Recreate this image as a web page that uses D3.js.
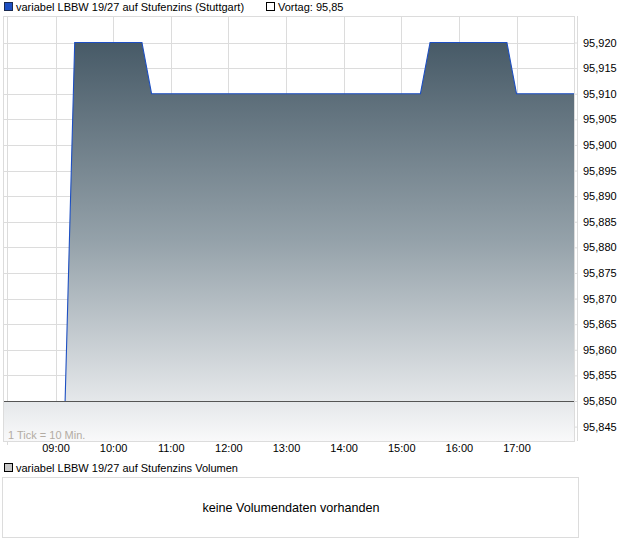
<!DOCTYPE html>
<html>
<head>
<meta charset="utf-8">
<script src="https://cdn.jsdelivr.net/npm/d3@7"></script>
<style>
  body { margin: 0; background: #fff; }
  svg { display: block; font-family: "Liberation Sans", Arial, sans-serif; }
</style>
</head>
<body>
<svg id="chart" width="620" height="546"></svg>
<script>
// price series (Stuttgart), times in 10-min steps where the curve changes
const times  = ['09:10', '09:20', '10:30', '10:40', '15:20', '15:30', '16:50', '17:00', '18:00'];
const prices = [95.85, 95.92, 95.92, 95.91, 95.91, 95.92, 95.92, 95.91, 95.91];
const prevClose = 95.85;
const hourTicks = ['09:00', '10:00', '11:00', '12:00', '13:00', '14:00', '15:00', '16:00', '17:00'];
const priceTicks = [95.845, 95.85, 95.855, 95.86, 95.865, 95.87, 95.875, 95.88, 95.885,
                    95.89, 95.895, 95.9, 95.905, 95.91, 95.915, 95.92];

const parseT = d3.timeParse('%H:%M');
const data = times.map((t, i) => ({ t: parseT(t), v: prices[i] }));

const svg = d3.select('#chart');

const pLeft = 3, pRight = 574, pTop = 16, pBottom = 441;

let x = d3.scaleTime()
    .domain([parseT('09:00'), parseT('17:00')])
    .range([55.5, 516.5]);

let y = d3.scaleLinear()
    .domain([95.845, 95.92])
    .range([426.6, 42.5]);

let fmt = v => d3.format('.3f')(v).replace('.', ',');

// gradient
let defs = svg.append('defs');
let grad = defs.append('linearGradient')
    .attr('id', 'fillGrad')
    .attr('gradientUnits', 'userSpaceOnUse')
    .attr('x1', 0).attr('x2', 0)
    .attr('y1', y(95.92)).attr('y2', pBottom);
grad.append('stop').attr('offset', 0).attr('stop-color', '#475a67');
grad.append('stop').attr('offset', 0.5).attr('stop-color', '#95a2aa');
grad.append('stop').attr('offset', 1).attr('stop-color', '#f9f9fa');

defs.append('clipPath').attr('id', 'plotClip')
    .append('rect')
    .attr('x', pLeft).attr('y', pTop)
    .attr('width', pRight - pLeft).attr('height', pBottom - pTop);

// grid
let grid = svg.append('g').attr('stroke', '#dcdcdc').attr('shape-rendering', 'crispEdges');
priceTicks.forEach(v => {
    grid.append('line')
        .attr('x1', pLeft).attr('x2', pRight)
        .attr('y1', Math.round(y(v)) + 0.5).attr('y2', Math.round(y(v)) + 0.5);
});
hourTicks.concat(['18:00']).forEach(h => {
    let px = Math.round(x(parseT(h))) + 0.5;
    grid.append('line')
        .attr('x1', px).attr('x2', px)
        .attr('y1', pTop).attr('y2', pBottom);
});
grid.append('line').attr('x1', 7.5).attr('x2', 7.5).attr('y1', pTop).attr('y2', pBottom + 4);

let plot = svg.append('g').attr('clip-path', 'url(#plotClip)');

// light band under previous close
plot.append('rect')
    .attr('x', pLeft).attr('y', y(prevClose))
    .attr('width', pRight - pLeft).attr('height', pBottom - y(prevClose))
    .attr('fill', 'url(#fillGrad)');

let area = d3.area()
    .x(d => x(d.t))
    .y0(pBottom)
    .y1(d => y(d.v));

plot.append('path')
    .datum(data)
    .attr('d', area)
    .attr('fill', 'url(#fillGrad)');

let line = d3.line()
    .x(d => x(d.t))
    .y(d => y(d.v));

plot.append('path')
    .datum(data)
    .attr('d', line)
    .attr('fill', 'none')
    .attr('stroke', '#1d4fc2')
    .attr('stroke-width', 1.1);

// previous close line
plot.append('line')
    .attr('x1', pLeft).attr('x2', pRight)
    .attr('y1', Math.round(y(prevClose)) + 0.5).attr('y2', Math.round(y(prevClose)) + 0.5)
    .attr('stroke', '#555')
    .attr('shape-rendering', 'crispEdges');

// frame
svg.append('rect')
    .attr('x', pLeft + 0.5).attr('y', pTop + 0.5)
    .attr('width', pRight - pLeft).attr('height', pBottom - pTop)
    .attr('fill', 'none').attr('stroke', '#dcdcdc')
    .attr('shape-rendering', 'crispEdges');

// right axis
let yAxis = d3.axisRight(y)
    .tickValues(priceTicks)
    .tickFormat(fmt)
    .tickSize(4)
    .tickPadding(5);

let yg = svg.append('g')
    .attr('transform', 'translate(' + pRight + ',0)')
    .call(yAxis);
yg.select('.domain').attr('d', 'M0.5,' + pTop + 'V' + pBottom + 'M3.5,' + pTop + 'V' + pBottom)
    .attr('stroke', '#dcdcdc');
yg.selectAll('.tick line').attr('stroke', '#dcdcdc');
yg.selectAll('.tick text').attr('font-size', 11).attr('fill', '#000')
    .attr('font-family', '"Liberation Sans", Arial, sans-serif');

// bottom axis
let xAxis = d3.axisBottom(x)
    .tickValues(hourTicks.map(parseT))
    .tickFormat(d3.timeFormat('%H:%M'))
    .tickSize(0)
    .tickPadding(3);

let xg = svg.append('g')
    .attr('transform', 'translate(0,' + pBottom + ')')
    .call(xAxis);
xg.select('.domain').remove();
xg.selectAll('.tick text').attr('font-size', 11).attr('fill', '#000')
    .attr('font-family', '"Liberation Sans", Arial, sans-serif');

svg.append('text')
    .attr('x', 8).attr('y', 439)
    .attr('font-size', 11).attr('fill', '#b3aca3')
    .text('1 Tick = 10 Min.');

// legend
svg.append('rect')
    .attr('x', 4.5).attr('y', 2.5).attr('width', 8).attr('height', 8)
    .attr('fill', '#1d4fc2').attr('stroke', '#1a2a50');
svg.append('text')
    .attr('x', 16).attr('y', 11).attr('font-size', 11)
    .text('variabel LBBW 19/27 auf Stufenzins (Stuttgart)');
svg.append('rect')
    .attr('x', 266.5).attr('y', 2.5).attr('width', 8).attr('height', 8)
    .attr('fill', '#fff').attr('stroke', '#000');
svg.append('text')
    .attr('x', 278).attr('y', 11).attr('font-size', 11)
    .text('Vortag: 95,85');

// volume panel
svg.append('rect')
    .attr('x', 4.5).attr('y', 463.5).attr('width', 8).attr('height', 8)
    .attr('fill', '#c8c8c8').attr('stroke', '#000');
svg.append('text')
    .attr('x', 16).attr('y', 472).attr('font-size', 11)
    .text('variabel LBBW 19/27 auf Stufenzins Volumen');
svg.append('rect')
    .attr('x', 2.5).attr('y', 477.5).attr('width', 576).attr('height', 60)
    .attr('fill', '#fff').attr('stroke', '#dcdcdc');
svg.append('text')
    .attr('x', 291).attr('y', 512).attr('font-size', 12.6)
    .attr('text-anchor', 'middle')
    .text('keine Volumendaten vorhanden');
</script>
</body>
</html>
